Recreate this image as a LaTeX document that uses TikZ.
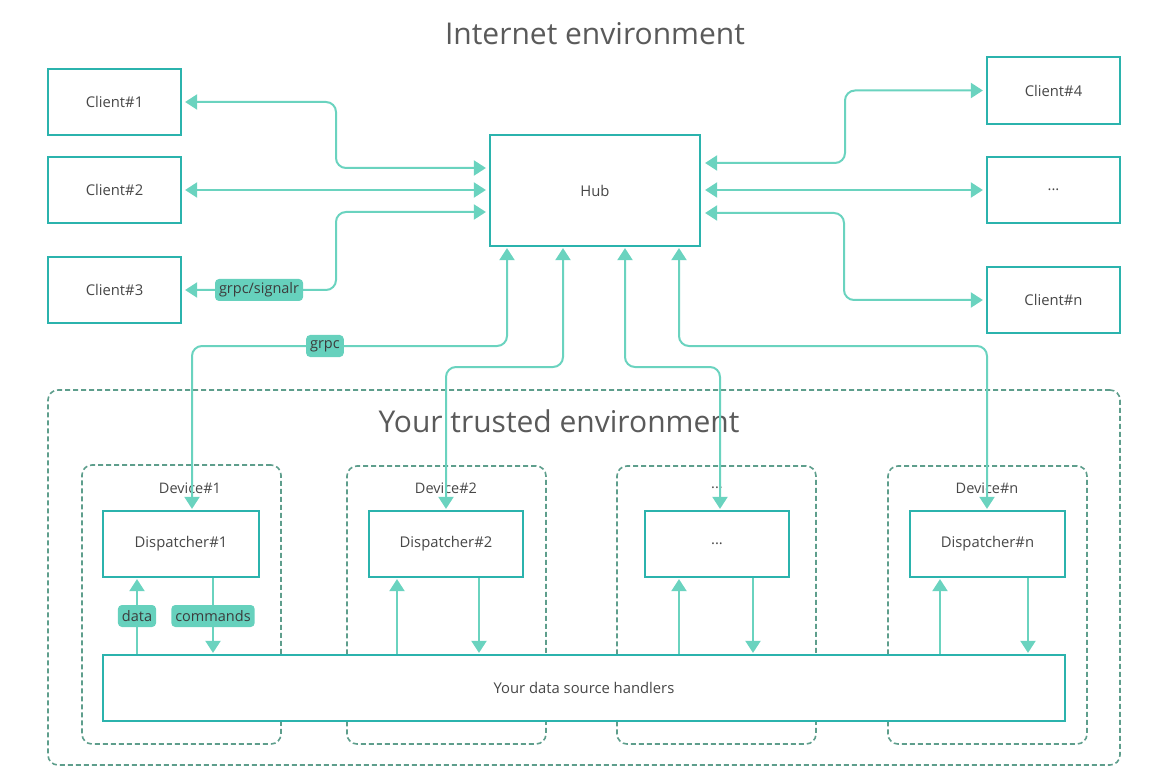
\documentclass[tikz,border=0pt]{standalone}
\usepackage{fontspec}
\setmainfont{Open Sans}
\usetikzlibrary{arrows.meta}
\definecolor{boxc}{HTML}{2BB3AD}
\definecolor{arr}{HTML}{6AD3BF}
\definecolor{dashc}{HTML}{5E9E8C}
\definecolor{txt}{HTML}{474747}
\definecolor{lab}{HTML}{66D1BD}
\tikzset{
  box/.style={draw=boxc, line width=2.2pt, fill=white, text=txt, font=\fontsize{14.8}{17}\selectfont, inner sep=0pt, rectangle},
  conn/.style={draw=arr, line width=2pt, rounded corners=10pt, -{Triangle[length=12pt,width=15pt]}},
  both/.style={conn, {Triangle[length=12pt,width=15pt]}-{Triangle[length=12pt,width=15pt]}},
  tag/.style={fill=lab, rounded corners=4pt, text=txt!85!black, font=\fontsize{14.5}{16}\selectfont, inner xsep=4pt, inner ysep=3pt, minimum height=22pt},
  env/.style={draw=dashc, line width=1.6pt, dash pattern=on 5pt off 3pt, rounded corners=10pt, inner sep=0pt, rectangle},
  devlabel/.style={text=txt, font=\fontsize{14.5}{16}\selectfont},
  title/.style={text=txt!90, font=\fontsize{30}{36}\selectfont},
}
\begin{document}
\begin{tikzpicture}[x=1pt,y=-1pt]
\useasboundingbox (0,0) rectangle (1171,770);

% titles
\node[title] (t1) at (595,34) {Internet environment};

% environment containers
\node[env, minimum width=1072pt, minimum height=375pt] (trusted) at (584,577.5) {};
\node[title] (t2) at (559,421) {Your trusted environment};
\node[env, minimum width=199pt, minimum height=279pt] (dev1) at (181.5,604.5) {};
\node[env, minimum width=199pt, minimum height=278pt] (dev2) at (446.5,605) {};
\node[env, minimum width=199pt, minimum height=278pt] (dev3) at (716.5,605) {};
\node[env, minimum width=199pt, minimum height=278pt] (devn) at (987.5,605) {};
\node[devlabel] (l1) at (190,488) {Device\#1};
\node[devlabel] (l2) at (446,488) {Device\#2};
\node[devlabel] (l3) at (717,488) {...};
\node[devlabel] (ln) at (987,488) {Device\#n};

% boxes
\node[box, minimum width=133pt, minimum height=66pt] (c1) at (114.5,102) {Client\#1};
\node[box, minimum width=133pt, minimum height=66pt] (c2) at (114.5,190) {Client\#2};
\node[box, minimum width=133pt, minimum height=66pt] (c3) at (114.5,290) {Client\#3};
\node[box, minimum width=210pt, minimum height=111pt] (hub) at (595,190.5) {Hub};
\node[box, minimum width=133pt, minimum height=67pt] (c4) at (1053.5,90.5) {Client\#4};
\node[box, minimum width=133pt, minimum height=66pt] (cd) at (1053.5,190) {...};
\node[box, minimum width=133pt, minimum height=66pt] (cn) at (1053.5,300) {Client\#n};

\node[box, minimum width=156pt, minimum height=66pt] (d1) at (181,544) {Dispatcher\#1};
\node[box, minimum width=154pt, minimum height=66pt] (d2) at (446,544) {Dispatcher\#2};
\node[box, minimum width=144pt, minimum height=66pt] (d3) at (717,544) {...};
\node[box, minimum width=155pt, minimum height=66pt] (dn) at (987.5,544) {Dispatcher\#n};
\node[box, minimum width=962pt, minimum height=66pt] (h) at (584,688) {Your data source handlers};

% client connectors
\draw[both, shorten <=3pt, shorten >=3pt] (c1.east) -| (336,168) -- (hub.west |- 0,168);
\draw[both, shorten <=3pt, shorten >=3pt] (c2.east) -- (hub.west |- c2.east);
\draw[both, shorten <=3pt, shorten >=3pt] (hub.west |- 0,212) -| (336,290) -- node[tag] (tg1) {grpc/signalr} (c3.east);
\draw[both, shorten <=4pt, shorten >=3pt] (hub.east |- 0,163) -| (845,90.5) -- (c4.west);
\draw[both, shorten <=4pt, shorten >=3pt] (hub.east |- cd.west) -- (cd.west);
\draw[both, shorten <=4pt, shorten >=3pt] (hub.east |- 0,213) -| (844,300) -- (cn.west);

% hub to dispatchers
\draw[both, shorten <=1pt, shorten >=1pt] (hub.south -| 507,0) -- (507,346) -- node[tag, pos=0.578] (tg2) {grpc} (192,346) -- (d1.north -| 192,0);
\draw[both, shorten <=1pt, shorten >=1pt] (hub.south -| 563,0) -- (563,367) -- (446,367) -- (d2.north -| 446,0);
\draw[both, shorten <=1pt, shorten >=1pt] (hub.south -| 625,0) -- (625,367) -- (720,367) -- (d3.north -| 720,0);
\draw[both, shorten <=1pt, shorten >=1pt] (hub.south -| 679,0) -- (679,346) -- (987,346) -- (dn.north -| 987,0);

% dispatcher <-> handlers
\draw[conn, shorten >=1pt] (h.north -| 137,0) -- node[tag] (tg3) {data} (d1.south -| 137,0);
\draw[conn, shorten >=1pt] (d1.south -| 213,0) -- node[tag] (tg4) {commands} (h.north -| 213,0);
\draw[conn, shorten >=1pt] (h.north -| 397,0) -- (d2.south -| 397,0);
\draw[conn, shorten >=1pt] (d2.south -| 479,0) -- (h.north -| 479,0);
\draw[conn, shorten >=1pt] (h.north -| 679,0) -- (d3.south -| 679,0);
\draw[conn, shorten >=1pt] (d3.south -| 753,0) -- (h.north -| 753,0);
\draw[conn, shorten >=1pt] (h.north -| 940,0) -- (dn.south -| 940,0);
\draw[conn, shorten >=1pt] (dn.south -| 1028,0) -- (h.north -| 1028,0);
\end{tikzpicture}
\end{document}
